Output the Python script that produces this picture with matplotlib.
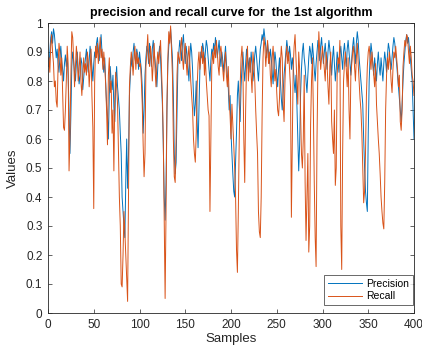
import numpy as np
import matplotlib
matplotlib.use("Agg")
import matplotlib.pyplot as plt

precision = [
0.85,0.90,0.95,0.97,0.93,0.98,0.96,0.92,0.88,0.91,0.86,0.83,0.88,0.92,0.87,0.84,0.80,0.86,0.89,0.85,
0.88,0.82,0.70,0.55,0.68,0.85,0.90,0.87,0.83,0.80,0.86,0.90,0.84,0.79,0.82,0.88,0.86,0.77,0.81,0.85,
0.88,0.91,0.86,0.83,0.87,0.92,0.89,0.85,0.80,0.86,0.90,0.88,0.93,0.95,0.91,0.87,0.92,0.96,0.90,0.86,
0.83,0.88,0.80,0.72,0.68,0.60,0.75,0.85,0.80,0.77,0.82,0.71,0.66,0.80,0.85,0.78,0.74,0.70,0.62,0.55,
0.40,0.35,0.30,0.26,0.45,0.60,0.43,0.55,0.75,0.82,0.88,0.85,0.90,0.93,0.88,0.86,0.91,0.89,0.84,0.90,
0.87,0.84,0.78,0.62,0.70,0.82,0.88,0.92,0.90,0.86,0.93,0.89,0.85,0.91,0.94,0.90,0.87,0.83,0.78,0.85,
0.89,0.92,0.88,0.80,0.72,0.58,0.40,0.32,0.45,0.70,0.86,0.92,0.95,0.98,0.93,0.88,0.75,0.55,0.48,0.52,
0.70,0.86,0.90,0.94,0.91,0.87,0.93,0.96,0.90,0.86,0.92,0.89,0.85,0.80,0.88,0.93,0.90,0.84,0.75,0.68,
0.72,0.80,0.66,0.57,0.70,0.84,0.90,0.88,0.93,0.91,0.86,0.90,0.94,0.92,0.88,0.84,0.80,0.87,0.91,0.89,
0.93,0.90,0.95,0.92,0.88,0.91,0.94,0.89,0.85,0.90,0.87,0.83,0.88,0.92,0.86,0.82,0.78,0.70,0.75,0.62,
0.55,0.48,0.42,0.40,0.52,0.62,0.75,0.80,0.72,0.66,0.78,0.85,0.90,0.84,0.80,0.86,0.91,0.88,0.84,0.88,
0.83,0.90,0.86,0.80,0.84,0.89,0.92,0.88,0.84,0.80,0.86,0.91,0.93,0.96,0.94,0.98,0.95,0.92,0.88,0.93,
0.90,0.86,0.91,0.88,0.83,0.79,0.85,0.90,0.87,0.82,0.78,0.84,0.88,0.80,0.74,0.70,0.76,0.82,0.86,0.90,
0.94,0.91,0.87,0.92,0.89,0.84,0.88,0.85,0.80,0.76,0.82,0.72,0.60,0.49,0.58,0.75,0.84,0.90,0.93,0.88,
0.85,0.80,0.76,0.82,0.88,0.92,0.90,0.86,0.93,0.89,0.84,0.80,0.86,0.90,0.94,0.91,0.87,0.92,0.95,0.90,
0.86,0.90,0.93,0.88,0.84,0.90,0.94,0.91,0.87,0.82,0.88,0.92,0.86,0.80,0.84,0.90,0.87,0.83,0.89,0.92,
0.88,0.84,0.90,0.93,0.89,0.85,0.91,0.94,0.90,0.86,0.82,0.88,0.92,0.95,0.90,0.86,0.93,0.97,0.94,0.88,
0.84,0.80,0.76,0.72,0.60,0.50,0.42,0.38,0.35,0.62,0.80,0.88,0.93,0.90,0.86,0.82,0.88,0.84,0.80,0.86,
0.90,0.85,0.82,0.88,0.84,0.80,0.86,0.90,0.87,0.83,0.89,0.93,0.91,0.87,0.84,0.88,0.92,0.95,0.93,0.89,
0.86,0.82,0.78,0.74,0.70,0.66,0.72,0.80,0.86,0.90,0.94,0.96,0.93,0.95,0.91,0.88,0.84,0.80,0.70,0.60,
]

recall = [
0.88,0.83,0.92,0.96,0.90,0.86,0.78,0.80,0.73,0.71,0.85,0.93,0.90,0.82,0.88,0.76,0.64,0.63,0.70,0.80,
0.92,0.86,0.49,0.60,0.82,0.97,0.95,0.88,0.78,0.85,0.92,0.88,0.80,0.84,0.90,0.80,0.75,0.82,0.88,0.83,
0.86,0.82,0.90,0.87,0.78,0.84,0.91,0.75,0.64,0.36,0.80,0.92,0.88,0.93,0.86,0.90,0.95,0.88,0.91,0.84,
0.90,0.85,0.79,0.70,0.58,0.82,0.88,0.76,0.80,0.62,0.70,0.49,0.74,0.83,0.78,0.72,0.55,0.40,0.30,0.10,
0.09,0.20,0.35,0.28,0.20,0.12,0.04,0.40,0.78,0.85,0.90,0.87,0.82,0.88,0.92,0.84,0.90,0.86,0.88,0.85,
0.86,0.80,0.72,0.58,0.47,0.55,0.85,0.90,0.96,0.88,0.85,0.92,0.88,0.80,0.86,0.93,0.84,0.78,0.86,0.90,
0.86,0.90,0.94,0.84,0.75,0.60,0.34,0.05,0.35,0.72,0.88,0.97,0.93,0.99,0.90,0.82,0.60,0.47,0.45,0.60,
0.82,0.90,0.88,0.86,0.92,0.95,0.88,0.84,0.90,0.93,0.87,0.82,0.88,0.92,0.86,0.80,0.75,0.70,0.60,0.55,
0.52,0.62,0.78,0.86,0.90,0.84,0.88,0.92,0.86,0.90,0.82,0.88,0.80,0.75,0.70,0.68,0.35,0.60,0.85,0.90,
0.86,0.92,0.88,0.94,0.90,0.85,0.82,0.90,0.92,0.88,0.84,0.80,0.86,0.90,0.82,0.78,0.85,0.74,0.68,0.60,
0.72,0.65,0.58,0.50,0.40,0.22,0.14,0.35,0.60,0.78,0.88,0.92,0.84,0.60,0.45,0.70,0.86,0.92,0.80,0.85,
0.88,0.82,0.76,0.90,0.86,0.80,0.70,0.62,0.55,0.35,0.28,0.26,0.40,0.68,0.88,0.95,0.92,0.85,0.90,0.94,
0.86,0.90,0.82,0.78,0.88,0.92,0.86,0.80,0.84,0.76,0.70,0.68,0.74,0.86,0.92,0.88,0.72,0.66,0.80,0.88,
0.92,0.86,0.90,0.84,0.78,0.33,0.60,0.85,0.92,0.96,0.88,0.80,0.72,0.90,0.84,0.70,0.55,0.50,0.60,0.82,
0.45,0.25,0.40,0.55,0.21,0.30,0.65,0.80,0.88,0.70,0.45,0.26,0.16,0.60,0.85,0.97,0.90,0.84,0.88,0.92,
0.88,0.84,0.80,0.90,0.86,0.78,0.72,0.85,0.90,0.66,0.60,0.55,0.70,0.44,0.50,0.82,0.88,0.86,0.94,0.30,
0.15,0.55,0.80,0.86,0.90,0.84,0.78,0.88,0.70,0.60,0.82,0.86,0.90,0.92,0.85,0.80,0.88,0.93,0.86,0.80,
0.74,0.70,0.62,0.50,0.38,0.42,0.55,0.75,0.85,0.90,0.92,0.88,0.84,0.90,0.86,0.82,0.78,0.86,0.72,0.66,
0.60,0.55,0.48,0.40,0.35,0.31,0.29,0.45,0.70,0.82,0.88,0.84,0.90,0.86,0.80,0.76,0.84,0.90,0.88,0.92,
0.88,0.84,0.78,0.82,0.66,0.63,0.70,0.85,0.90,0.94,0.92,0.96,0.95,0.90,0.86,0.92,0.88,0.82,0.80,0.75,
]

samples = np.arange(1, len(precision) + 1)
xticks = [0, 50, 100, 150, 200, 250, 300, 350, 400]
yticks = [0, 0.1, 0.2, 0.3, 0.4, 0.5, 0.6, 0.7, 0.8, 0.9, 1]
ytick_labels = ["0", "0.1", "0.2", "0.3", "0.4", "0.5", "0.6", "0.7", "0.8", "0.9", "1"]

plt.rcParams['font.family'] = ['Liberation Sans', 'DejaVu Sans']

fig = plt.figure(figsize=(4.22, 3.49), dpi=100)
ax = fig.add_axes([48/422, 36/349, 366/422, 290/349])
ax.plot(samples, precision, color=(0, 0.447, 0.741), lw=0.7, label="Precision")
ax.plot(samples, recall, color=(0.85, 0.325, 0.098), lw=0.7, label="Recall")
ax.set_xlim(0, 400)
ax.set_ylim(0, 1)
ax.set_xticks(xticks)
ax.set_yticks(yticks)
ax.set_yticklabels(ytick_labels)
ax.tick_params(direction='in', length=3, width=0.5, labelsize=8.5, colors='#262626',
               top=True, right=True, pad=4)
for s in ax.spines.values():
    s.set_linewidth(0.6)
    s.set_color('#262626')
ax.set_xlabel("Samples", fontsize=9.5, color='#262626', labelpad=2)
ax.set_ylabel("Values", fontsize=9.5, color='#262626', labelpad=5)
ax.set_title("precision and recall curve for  the 1st algorithm", fontsize=9,
             fontweight='bold', pad=5)
leg = ax.legend(loc='lower right', bbox_to_anchor=(0.997, 0.028), borderaxespad=0,
                fontsize=7.5, frameon=True, fancybox=False,
                edgecolor='#262626', handlelength=3.3, borderpad=0.35,
                labelspacing=0.25, handletextpad=0.4)
leg.get_frame().set_linewidth(0.6)
fig.savefig("out.png", dpi=100)
